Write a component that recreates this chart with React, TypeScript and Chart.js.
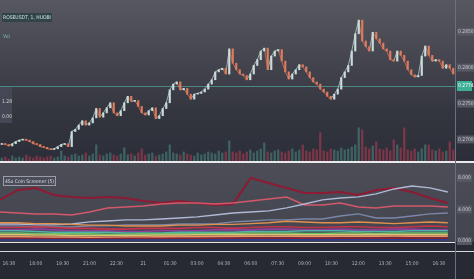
import React, { useEffect, useRef } from "react";
import { Chart, registerables } from "chart.js";

Chart.register(...registerables);

// ---------- data ----------
const symbolTitle = "ROSEUSDT, 1, HUOBI";
const volumeTitle = "Vol";
const screenerTitle = "4Sx Coin Screener (5)";

const firstOpen = 0.2693;
const closes = [
  0.2694, 0.2693, 0.2691, 0.2694, 0.2697, 0.2699, 0.27, 0.2699, 0.2697, 0.2694,
  0.2693, 0.269, 0.2689, 0.2687, 0.2686, 0.2687, 0.269, 0.2693, 0.2694, 0.269,
  0.2711, 0.2714, 0.272, 0.2726, 0.272, 0.2723, 0.273, 0.2743, 0.2731, 0.2737,
  0.2744, 0.2751, 0.2737, 0.2733, 0.274, 0.2751, 0.276, 0.2753, 0.2754, 0.2746,
  0.2737, 0.2734, 0.274, 0.2744, 0.2729, 0.2733, 0.2743, 0.2751, 0.2769, 0.2777,
  0.278, 0.2769, 0.2771, 0.2763, 0.2756, 0.2763, 0.2764, 0.2766, 0.277, 0.2777,
  0.2783, 0.2794, 0.2797, 0.2799, 0.2791, 0.2826, 0.2806, 0.2797, 0.2791, 0.2789,
  0.2783, 0.2791, 0.2803, 0.2811, 0.2823, 0.2827, 0.2797, 0.2816, 0.2823, 0.2825,
  0.2809, 0.2794, 0.2784, 0.2791, 0.2797, 0.2804, 0.2801, 0.2794, 0.2786, 0.278,
  0.2777, 0.277, 0.2766, 0.276, 0.2756, 0.2763, 0.277, 0.2786, 0.2794, 0.2803,
  0.2823, 0.2847, 0.2866, 0.2837, 0.2829, 0.2823, 0.2849, 0.284, 0.2834, 0.2826,
  0.2823, 0.2811, 0.2809, 0.2823, 0.2817, 0.2809, 0.2797, 0.279, 0.2787, 0.2789,
  0.2816, 0.283, 0.2817, 0.2809, 0.2811, 0.2809, 0.2799, 0.2804, 0.2799, 0.2791,
];
const volumes = [
  3, 4, 2, 5, 3, 4, 3, 6, 4, 3,
  5, 4, 3, 4, 5, 3, 4, 10, 5, 4,
  6, 7, 5, 6, 8, 5, 7, 16, 6, 5,
  7, 8, 6, 5, 7, 13, 6, 7, 5, 8,
  12, 6, 7, 8, 5, 6, 7, 9, 16, 8,
  7, 6, 9, 7, 6, 5, 8, 6, 7, 9,
  8, 7, 10, 8, 9, 20, 9, 8, 10, 7,
  9, 11, 8, 10, 12, 18, 9, 8, 10, 11,
  9, 8, 10, 12, 9, 11, 16, 10, 9, 12,
  11, 28, 10, 9, 12, 11, 10, 13, 11, 12,
  14, 16, 33, 31, 14, 12, 15, 19, 12, 11,
  13, 10, 21, 16, 13, 33, 11, 10, 12, 9,
  12, 16, 16, 11, 10, 12, 9, 10, 19, 11,
];
const priceTicks = [0.27, 0.275, 0.28, 0.285];
const priceMin = 0.267;
const priceMax = 0.2894;
const volumeMax = 160;
const lastPrice = 0.2774;
const legendValues = ["1.28", "0.00"];

// indicator pane (minutes since 16:00)
const screenerMinutes = [
  0, 60, 120, 180, 240, 300, 360, 420, 480, 540, 600, 660, 720,
  780, 840, 900, 960, 1020, 1080, 1140, 1200, 1260, 1320, 1380, 1440, 1500,
];
const timeMin = 0;
const timeMax = 1524;
const timeTickMinutes = [30, 120, 210, 300, 390, 480, 570, 660, 750, 840, 930, 1020, 1110, 1200, 1290, 1380, 1470];
const timeLabels = ["16:30", "18:00", "19:30", "21:00", "22:30", "21", "01:30", "03:00", "04:30", "06:00", "07:30", "09:00", "10:30", "12:00", "13:30", "15:00", "16:30"];
const screenerTicks = [0, 4, 8];
const screenerMin = -0.13;
const screenerMax = 9.87;

const coinCrimson = [5.19, 6.46, 6.71, 5.82, 5.57, 5.44, 5.57, 5.44, 5.06, 4.81, 5.06, 4.81, 4.56, 4.68, 7.97, 7.34, 6.71, 6.08, 6.08, 6.2, 5.82, 6.46, 6.71, 6.2, 5.44, 4.81];
const coinSalmon = [3.67, 3.54, 3.42, 3.42, 3.29, 3.67, 4.18, 4.3, 4.43, 4.68, 4.81, 4.81, 4.68, 4.81, 5.06, 5.32, 5.57, 4.56, 4.56, 4.81, 4.3, 4.18, 4.43, 4.43, 4.43, 4.3];
const coinLavender = [2.15, 2.15, 2.03, 2.03, 2.15, 2.41, 2.53, 2.66, 2.66, 2.78, 2.91, 3.04, 3.29, 3.54, 3.67, 3.8, 4.18, 4.68, 5.19, 5.44, 5.57, 5.95, 6.58, 6.96, 6.71, 6.2];
const coinSteel = [1.9, 1.9, 1.77, 1.77, 1.77, 1.9, 1.9, 2.03, 2.03, 2.03, 2.15, 2.15, 2.15, 2.41, 2.53, 2.66, 2.66, 2.78, 2.78, 3.16, 3.42, 2.91, 2.91, 3.16, 3.42, 3.54];
const coinOrange = [2.3, 2.3, 2.2, 2.2, 2.1, 2.0, 2.0, 1.9, 1.9, 1.9, 2.0, 2.0, 2.1, 2.1, 2.2, 2.3, 2.5, 2.4, 2.3, 2.3, 2.4, 2.3, 2.2, 2.3, 2.4, 2.3];
const coinRed = [1.7, 1.7, 1.8, 1.7, 1.6, 1.6, 1.5, 1.5, 1.6, 1.6, 1.6, 1.7, 1.7, 1.6, 1.7, 1.8, 1.8, 1.7, 1.7, 1.8, 1.8, 1.7, 1.7, 1.8, 1.9, 1.8];
const coinPurple = [1.4, 1.4, 1.5, 1.4, 1.3, 1.3, 1.3, 1.2, 1.2, 1.3, 1.3, 1.3, 1.4, 1.4, 1.4, 1.5, 1.5, 1.4, 1.4, 1.5, 1.4, 1.4, 1.5, 1.5, 1.4, 1.4];
const coinTeal = [1.3, 1.3, 1.2, 1.1, 1.1, 1.1, 1.1, 1.0, 1.0, 1.0, 1.1, 1.1, 1.1, 1.1, 1.2, 1.2, 1.2, 1.3, 1.3, 1.3, 1.2, 1.2, 1.2, 1.3, 1.3, 1.3];
const coinGreen = [1.0, 1.0, 0.95, 0.9, 0.9, 0.9, 0.85, 0.85, 0.9, 0.9, 0.9, 0.95, 0.95, 0.95, 1.0, 1.0, 1.0, 0.95, 0.95, 1.0, 1.0, 0.95, 1.0, 1.0, 1.0, 1.0];
const coinYellow = [0.8, 0.8, 0.75, 0.75, 0.7, 0.7, 0.7, 0.7, 0.72, 0.75, 0.75, 0.78, 0.8, 0.8, 0.8, 0.82, 0.8, 0.78, 0.78, 0.8, 0.8, 0.8, 0.82, 0.82, 0.8, 0.8];
const coinPeach = [0.55, 0.55, 0.5, 0.5, 0.5, 0.48, 0.48, 0.5, 0.5, 0.52, 0.55, 0.55, 0.55, 0.58, 0.6, 0.6, 0.6, 0.58, 0.58, 0.6, 0.6, 0.6, 0.62, 0.62, 0.6, 0.6];
const coinMaroon = [0.3, 0.3, 0.3, 0.28, 0.28, 0.28, 0.3, 0.3, 0.3, 0.32, 0.32, 0.32, 0.33, 0.33, 0.35, 0.35, 0.35, 0.33, 0.33, 0.35, 0.35, 0.35, 0.36, 0.36, 0.35, 0.35];
const coinNavy = [0.12, 0.12, 0.12, 0.12, 0.12, 0.12, 0.12, 0.12, 0.13, 0.13, 0.13, 0.13, 0.14, 0.14, 0.14, 0.14, 0.14, 0.14, 0.14, 0.15, 0.15, 0.15, 0.15, 0.15, 0.15, 0.15];

// ---------- styles ----------
const FONT = "'Liberation Sans Narrow','DejaVu Sans Condensed','Liberation Sans',sans-serif";
const UP = "#c9dcd9";
const DOWN = "#df7a5c";
const UP_LINE = "rgba(190,212,210,0.75)";
const DOWN_LINE = "rgba(214,120,98,0.75)";
const UP_VOL = "rgba(80,150,140,0.5)";
const DOWN_VOL = "rgba(190,60,85,0.55)";

const screenerStyles: [number[], string, number][] = [
  [coinNavy, "#2d3c8e", 1.6],
  [coinMaroon, "#8a2030", 1.6],
  [coinPeach, "#f0956a", 1.6],
  [coinYellow, "#d8c372", 1.6],
  [coinGreen, "#6abf69", 1.6],
  [coinTeal, "#4fb3a9", 1.4],
  [coinPurple, "#8d3f9a", 1.6],
  [coinRed, "#c2334d", 1.6],
  [coinOrange, "#e3904f", 1.4],
  [coinSteel, "#7c86a6", 1.3],
  [coinLavender, "#b0b8d6", 1.3],
  [coinSalmon, "#d4586a", 1.5],
  [coinCrimson, "#8e1a33", 2],
];

const rightAxisFit = (s: any) => {
  s.width = 19;
  s.paddingTop = 0;
  s.paddingBottom = 0;
};

const priceLinePlugin = {
  id: "priceLine",
  beforeDatasetsDraw(chart: any) {
    const { ctx, chartArea, scales } = chart;
    const y = Math.round(scales.y.getPixelForValue(lastPrice)) + 0.5;
    ctx.save();
    ctx.strokeStyle = "#4d8784";
    ctx.lineWidth = 1;
    ctx.beginPath();
    ctx.moveTo(chartArea.left, y);
    ctx.lineTo(chartArea.right, y);
    ctx.stroke();
    ctx.restore();
  },
  afterDraw(chart: any) {
    const { ctx, chartArea, scales } = chart;
    const y = Math.round(scales.y.getPixelForValue(lastPrice));
    ctx.save();
    ctx.fillStyle = "#3bb096";
    ctx.fillRect(chartArea.right + 2, y - 5, 15, 10);
    ctx.fillStyle = "#ffffff";
    ctx.font = `5px ${FONT}`;
    ctx.textBaseline = "middle";
    ctx.fillText(lastPrice.toFixed(4), chartArea.right + 3, y);
    ctx.restore();
  },
};

export default function App() {
  const mainRef = useRef<HTMLCanvasElement | null>(null);
  const indRef = useRef<HTMLCanvasElement | null>(null);

  useEffect(() => {
    const opens = closes.map((_, i) => (i === 0 ? firstOpen : closes[i - 1]));
    const candleData = closes.map((c, i) => [opens[i], c]);
    const isUp = closes.map((c, i) => c >= opens[i]);

    const main = new Chart(mainRef.current as HTMLCanvasElement, {
      type: "bar",
      data: {
        labels: closes.map((_, i) => String(i)),
        datasets: [
          {
            type: "line",
            label: "close",
            data: closes,
            borderWidth: 1,
            pointRadius: 0,
            tension: 0,
            borderColor: UP_LINE,
            segment: {
              borderColor: (c: any) => (c.p1.parsed.y >= c.p0.parsed.y ? UP_LINE : DOWN_LINE),
            },
            yAxisID: "y",
            order: 3,
          } as any,
          {
            label: symbolTitle,
            data: candleData as any,
            backgroundColor: isUp.map((u) => (u ? UP : DOWN)),
            barThickness: 1.5,
            minBarLength: 1,
            grouped: false,
            yAxisID: "y",
            order: 1,
          } as any,
          {
            label: volumeTitle,
            data: volumes,
            backgroundColor: isUp.map((u) => (u ? UP_VOL : DOWN_VOL)),
            barThickness: 1.6,
            grouped: false,
            yAxisID: "yv",
            order: 2,
          } as any,
        ],
      },
      options: {
        animation: false,
        responsive: false,
        devicePixelRatio: 1,
        layout: { padding: 0 },
        plugins: { legend: { display: false }, tooltip: { enabled: false } },
        scales: {
          x: { display: false },
          y: {
            position: "right",
            min: priceMin,
            max: priceMax,
            grid: { display: false, drawTicks: false },
            border: { display: false },
            afterBuildTicks: (s: any) => {
              s.ticks = priceTicks.map((v) => ({ value: v }));
            },
            afterFit: rightAxisFit,
            ticks: {
              color: "#c9cbd1",
              font: { size: 5, family: FONT },
              padding: 3,
              showLabelBackdrop: true,
              backdropColor: "rgba(88,91,102,0.95)",
              backdropPadding: 1,
              callback: (v: any) => Number(v).toFixed(4),
            } as any,
          },
          yv: { display: false, min: 0, max: volumeMax },
        },
      },
      plugins: [priceLinePlugin],
    });

    const ind = new Chart(indRef.current as HTMLCanvasElement, {
      type: "line",
      data: {
        datasets: screenerStyles.map(([vals, color, w], k) => ({
          label: `coin${k}`,
          data: screenerMinutes.map((t, i) => ({ x: t, y: vals[i] })),
          borderColor: color,
          borderWidth: w,
          pointRadius: 0,
          tension: 0,
          fill: false,
        })),
      },
      options: {
        animation: false,
        responsive: false,
        devicePixelRatio: 1,
        layout: { padding: 0 },
        plugins: { legend: { display: false }, tooltip: { enabled: false } },
        scales: {
          x: {
            type: "linear",
            min: timeMin,
            max: timeMax,
            grid: { display: false, drawTicks: false },
            border: { display: false },
            afterBuildTicks: (s: any) => {
              s.ticks = timeTickMinutes.map((v) => ({ value: v }));
            },
            afterFit: (s: any) => {
              s.height = 37;
              s.paddingLeft = 0;
              s.paddingRight = 0;
            },
            ticks: {
              color: "#b4b7be",
              font: { size: 5, family: FONT },
              padding: 19,
              maxRotation: 0,
              autoSkip: false,
              callback: (_v: any, i: number) => timeLabels[i],
            },
          },
          y: {
            position: "right",
            min: screenerMin,
            max: screenerMax,
            grid: { display: false, drawTicks: false },
            border: { display: false },
            afterBuildTicks: (s: any) => {
              s.ticks = screenerTicks.map((v) => ({ value: v }));
            },
            afterFit: rightAxisFit,
            ticks: {
              color: "#c9cbd1",
              font: { size: 5, family: FONT },
              padding: 3,
              showLabelBackdrop: true,
              backdropColor: "rgba(88,91,102,0.95)",
              backdropPadding: 1,
              callback: (v: any) => Number(v).toFixed(3),
            } as any,
          },
        },
      },
    });

    return () => {
      main.destroy();
      ind.destroy();
    };
  }, []);

  const abs = (s: React.CSSProperties): React.CSSProperties => ({ position: "absolute", ...s });

  return (
    <div style={{ position: "fixed", left: 0, top: 0, width: 474, height: 279, background: "#272a33", overflow: "hidden", fontFamily: FONT }}>
      <div style={abs({ left: 0, top: 0, width: 474, height: 161, background: "linear-gradient(#57585f 0%, #45464f 35%, #34363f 70%, #2b2e38 100%)" })} />
      <div style={abs({ left: 0, top: 163, width: 474, height: 79, background: "linear-gradient(#4c4d57, #42444e)" })} />
      <canvas ref={mainRef} width={474} height={161} style={abs({ left: 0, top: 0, width: 474, height: 161 })} />
      <canvas ref={indRef} width={474} height={116} style={abs({ left: 0, top: 163, width: 474, height: 116 })} />
      <div style={abs({ left: 0, top: 161, width: 474, height: 2, background: "#e9e9ec" })} />
      <div style={abs({ left: 0, top: 242, width: 455, height: 1, background: "#e2e2e6" })} />
      <div style={abs({ left: 0, top: 251, width: 474, height: 1, background: "#d8d8dc" })} />
      <div style={abs({ left: 455, top: 0, width: 1, height: 279, background: "#6c707e" })} />
      <div style={abs({ left: 2, top: 13, height: 9, padding: "0 1px", background: "rgba(44,66,68,0.85)", color: "#cfe6df", fontSize: 5, lineHeight: "9px", whiteSpace: "nowrap" })}>{symbolTitle}</div>
      <div style={abs({ left: 3, top: 33, color: "#7fc2b4", fontSize: 5, lineHeight: "7px" })}>{volumeTitle}</div>
      <div style={abs({ left: 0, top: 87, width: 12, height: 36, background: "rgba(70,74,86,0.9)", color: "#d4d6dc", fontSize: 5, overflow: "hidden", textAlign: "right" })}>
        <div style={{ marginTop: 11, lineHeight: "7px" }}>{legendValues[0]}</div>
        <div style={{ marginTop: 8, lineHeight: "7px" }}>{legendValues[1]}</div>
      </div>
      <div style={abs({ left: 3, top: 176, height: 8, padding: "0 1px", border: "1px solid #9a9ca6", background: "rgba(74,76,88,0.8)", color: "#dcdde2", fontSize: 5, lineHeight: "8px", whiteSpace: "nowrap" })}>{screenerTitle}</div>
    </div>
  );
}
